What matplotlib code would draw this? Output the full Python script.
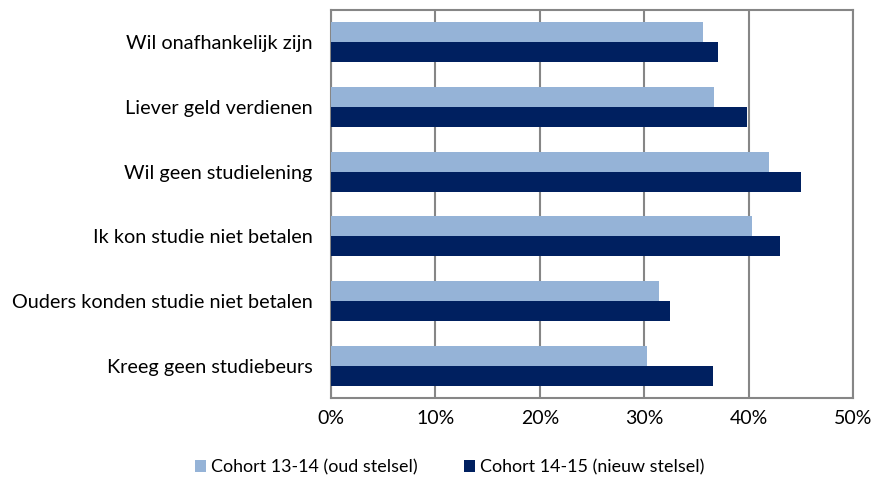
import numpy as np
import matplotlib.pyplot as plt
from matplotlib.ticker import FuncFormatter

# Gegevens (aandeel in %)
redenen = ['Wil onafhankelijk zijn', 'Liever geld verdienen', 'Wil geen studielening',
           'Ik kon studie niet betalen', 'Ouders konden studie niet betalen',
           'Kreeg geen studiebeurs']
cohort_1314 = [35.6, 36.7, 42.0, 40.3, 31.4, 30.3]
cohort_1415 = [37.1, 39.8, 45.0, 43.0, 32.5, 36.6]

plt.rcParams['font.family'] = ['Lato', 'DejaVu Sans']

fig = plt.figure(figsize=(8.72, 4.84), dpi=100)
ax = fig.add_axes([0.3796, 0.1777, 0.5986, 0.8017])

y = np.arange(len(redenen))
h = 0.31
ax.barh(y - h / 2, cohort_1314, height=h, color='#95B3D7', label='Cohort 13-14 (oud stelsel)', zorder=3)
ax.barh(y + h / 2, cohort_1415, height=h, color='#002060', label='Cohort 14-15 (nieuw stelsel)', zorder=3)

ax.set_ylim(len(redenen) - 0.5, -0.5)
ax.set_yticks(y)
ax.set_yticklabels(redenen, fontsize=14.3)
ax.set_xlim(0, 50)
ax.set_xticks(np.arange(0, 51, 10))
ax.xaxis.set_major_formatter(FuncFormatter(lambda v, p: f'{v:.0f}%'))
ax.tick_params(axis='x', labelsize=14, length=0, pad=9)
ax.tick_params(axis='y', length=0, pad=13.5)
ax.grid(axis='x', color='#868686', linewidth=1.5, zorder=0)
for s in ax.spines.values():
    s.set_color('#868686')
    s.set_linewidth(1.5)

fig.legend(loc='lower center', bbox_to_anchor=(0.516, -0.015), ncol=2, frameon=False,
           fontsize=12.9, handlelength=0.6, handleheight=0.6, handletextpad=0.3,
           columnspacing=2.6)

plt.savefig('out.png', dpi=100)
